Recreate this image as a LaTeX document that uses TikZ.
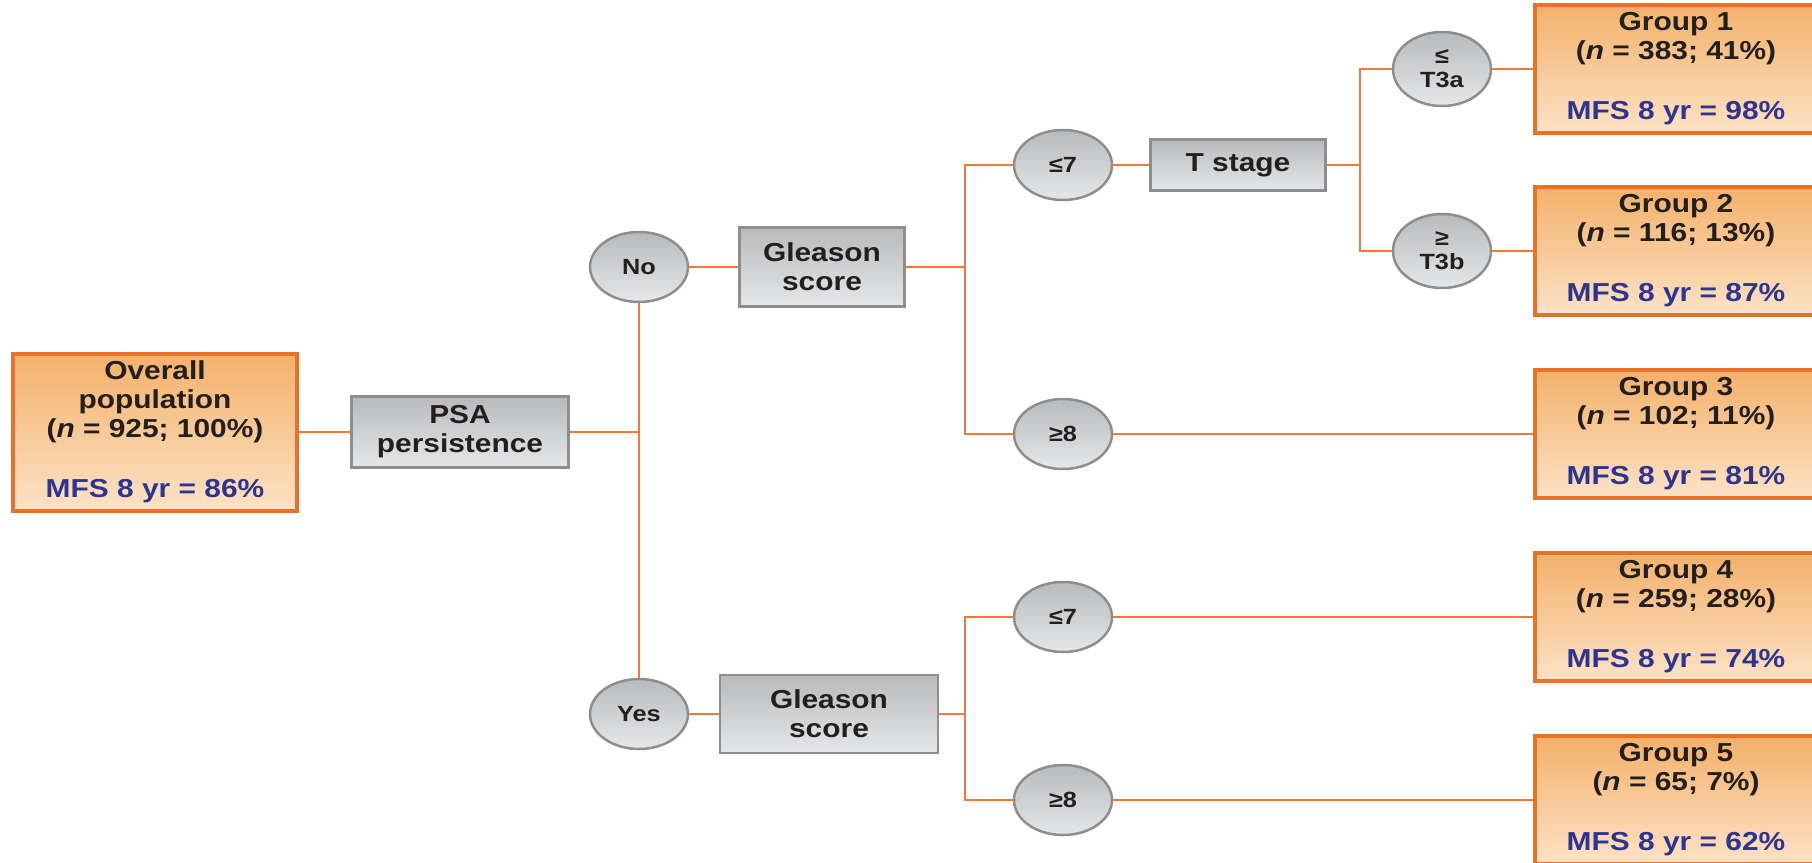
\documentclass[tikz,border=0pt]{standalone}
\usepackage{fontspec}
\setmainfont{Liberation Sans}[FakeStretch=1.15]
\usetikzlibrary{shapes.geometric}
\definecolor{lineor}{HTML}{F07A35}
\definecolor{boxor}{HTML}{E9722A}
\definecolor{ortop}{HTML}{F3B16A}
\definecolor{orbot}{HTML}{FDE2C6}
\definecolor{grtop}{HTML}{B9BABC}
\definecolor{grbot}{HTML}{E6E7E8}
\definecolor{grline}{HTML}{8D8E90}
\definecolor{txt}{HTML}{231F20}
\definecolor{mfs}{HTML}{2E3590}
\begin{document}
\begin{tikzpicture}[x=1pt,y=-1pt,
 font=\fontsize{26}{29}\selectfont\bfseries,
 every node/.style={text=txt, align=center, inner sep=0pt},
 groupbox/.style={draw=boxor, line width=4pt, top color=ortop, bottom color=orbot, minimum width=282pt, minimum height=128pt},
 graybox/.style={draw=grline, line width=2.5pt, top color=grtop, bottom color=grbot},
 choice/.style={ellipse, draw=grline, line width=2.5pt, top color=grtop, bottom color=grbot, minimum width=98pt, minimum height=70pt, font=\fontsize{22}{24}\selectfont\bfseries},
 conn/.style={draw=lineor, line width=2.5pt}]
\useasboundingbox (0,0) rectangle (1812,862);
% nodes
\node[groupbox, minimum width=284pt, minimum height=157pt] (overall) at (155,432)
  {Overall\\population\\(\textit{n} = 925; 100\%)\\[31pt]\textcolor{mfs}{MFS 8 yr = 86\%}};
\node[graybox, minimum width=217pt, minimum height=71pt] (psa) at (460,432) {PSA\\persistence};
\coordinate (trunk) at (639,432);
\node[choice] (no) at (639,267) {No};
\node[choice] (yes) at (639,714) {Yes};
\node[graybox, minimum width=165pt, minimum height=79pt] (gsno) at (822,267) {Gleason\\score};
\node[graybox, minimum width=218pt, minimum height=78pt] (gsyes) at (829,714) {Gleason\\score};
\coordinate (ba) at (965,267);
\coordinate (bb) at (965,714);
\node[choice] (le7a) at (1063,165) {≤7};
\node[choice] (ge8a) at (1063,434) {≥8};
\node[choice] (le7b) at (1063,617) {≤7};
\node[choice] (ge8b) at (1063,800) {≥8};
\node[graybox, minimum width=175pt, minimum height=51pt] (tst) at (1238,165) {T stage};
\coordinate (bt) at (1360,165);
\node[choice, minimum height=74pt] (t3a) at (1442,69) {≤\\T3a};
\node[choice, minimum height=74pt] (t3b) at (1442,251) {≥\\T3b};
\node[groupbox] (g1) at (1676,69) {Group 1\\(\textit{n} = 383; 41\%)\\[31pt]\textcolor{mfs}{MFS 8 yr = 98\%}};
\node[groupbox] (g2) at (1676,251) {Group 2\\(\textit{n} = 116; 13\%)\\[31pt]\textcolor{mfs}{MFS 8 yr = 87\%}};
\node[groupbox] (g3) at (1676,434) {Group 3\\(\textit{n} = 102; 11\%)\\[31pt]\textcolor{mfs}{MFS 8 yr = 81\%}};
\node[groupbox] (g4) at (1676,617) {Group 4\\(\textit{n} = 259; 28\%)\\[31pt]\textcolor{mfs}{MFS 8 yr = 74\%}};
\node[groupbox] (g5) at (1676,800) {Group 5\\(\textit{n} = 65; 7\%)\\[31pt]\textcolor{mfs}{MFS 8 yr = 62\%}};
% connectors
\path[conn] (overall.east) -- (psa.west);
\path[conn] (psa.east) -- (trunk);
\path[conn] (no.south) -- (yes.north);
\path[conn] (no.east) -- (gsno.west);
\path[conn] (yes.east) -- (gsyes.west);
\path[conn] (gsno.east) -- (ba);
\path[conn] (gsyes.east) -- (bb);
\path[conn] (le7a.west) -| (ba) |- (ge8a.west);
\path[conn] (le7b.west) -| (bb) |- (ge8b.west);
\path[conn] (le7a.east) -- (tst.west);
\path[conn] (tst.east) -- (bt);
\path[conn] (t3a.west) -| (bt) |- (t3b.west);
\path[conn] (t3a.east) -- (g1.west);
\path[conn] (t3b.east) -- (g2.west);
\path[conn] (ge8a.east) -- (g3.west);
\path[conn] (le7b.east) -- (g4.west);
\path[conn] (ge8b.east) -- (g5.west);
\end{tikzpicture}
\end{document}
